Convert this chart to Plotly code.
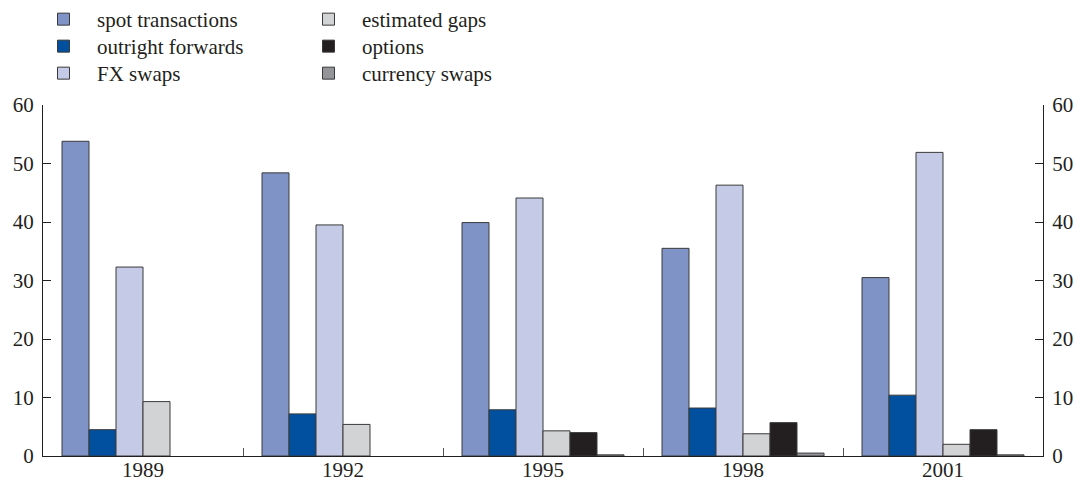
import plotly.graph_objects as go

years = ["1989", "1992", "1995", "1998", "2001"]
series_names = ["spot transactions", "outright forwards", "FX swaps",
                "estimated gaps", "options", "currency swaps"]
spot = [53.8, 48.4, 39.9, 35.5, 30.5]
outright_forwards = [4.5, 7.2, 7.9, 8.2, 10.4]
fx_swaps = [32.3, 39.5, 44.1, 46.3, 51.9]
estimated_gaps = [9.3, 5.4, 4.3, 3.8, 2.0]
options = [None, None, 4.0, 5.7, 4.5]
currency_swaps = [None, None, 0.2, 0.5, 0.2]
y_ticks = [0, 10, 20, 30, 40, 50, 60]

series_values = [spot, outright_forwards, fx_swaps, estimated_gaps, options, currency_swaps]
colors = ["#7f93c6", "#00509f", "#c5cae6", "#d2d3d5", "#231f20", "#939598"]

W, H = 1084, 483
xpos = list(range(len(years)))
FONT = "Liberation Serif"
AX = "#231f20"

# legend layout: two columns of three entries, one small legend per entry
legend_cols_px = [30, 295]           # left edge of each legend column
legend_rows_px = [19.5, 46.5, 73.5]  # vertical centre of each row
legend_ids = ["legend" if i == 0 else f"legend{i + 1}" for i in range(len(series_names))]

fig = go.Figure()
for name, vals, col, lg in zip(series_names, series_values, colors, legend_ids):
    fig.add_trace(go.Bar(
        x=xpos, y=vals, name=name, legend=lg,
        marker=dict(color=col, line=dict(color="#3a3a3a", width=1)),
    ))

# empty trace carrying the right-hand axis and the group divider ticks
fig.add_trace(go.Bar(x=xpos, y=[None] * len(xpos), xaxis="x2", yaxis="y2",
                     showlegend=False, hoverinfo="skip"))

legends = {}
for i, lg in enumerate(legend_ids):
    c, r = divmod(i, 3)
    legends[lg] = dict(
        orientation="v", xanchor="left", yanchor="middle",
        xref="container", yref="container",
        x=legend_cols_px[c] / W, y=1 - legend_rows_px[r] / H,
        font=dict(family=FONT, size=21, color=AX), bgcolor="rgba(0,0,0,0)",
        itemwidth=57, borderwidth=0,
    )

axis_font = dict(family=FONT, size=21, color=AX)

fig.update_layout(
    width=W, height=H,
    margin=dict(l=43, r=41, t=105, b=27, autoexpand=False),
    paper_bgcolor="white", plot_bgcolor="white",
    barmode="group", bargap=0.19, bargroupgap=0,
    font=dict(family=FONT, size=21, color=AX),
    xaxis=dict(
        range=[-0.5, len(years) - 0.5],
        tickvals=xpos, ticktext=years, ticks="", ticklabelstandoff=-5,
        showline=True, linecolor=AX, linewidth=1.2,
        showgrid=False, zeroline=False, automargin=False,
        tickfont=axis_font,
    ),
    xaxis2=dict(
        range=[-0.5, len(years) - 0.5], overlaying="x", anchor="y",
        tickvals=[i + 0.5 for i in xpos[:-1]], ticks="inside", ticklen=8,
        tickcolor="#555555", tickwidth=1.2, showticklabels=False,
        showline=False, showgrid=False, zeroline=False, automargin=False,
        side="bottom",
    ),
    yaxis=dict(
        range=[0, 60], tickvals=y_ticks, ticks="inside", ticklen=8,
        tickcolor=AX, tickwidth=1.2, ticklabelstandoff=4,
        showline=True, linecolor=AX, linewidth=1.2,
        showgrid=False, zeroline=False, automargin=False,
        tickfont=axis_font,
    ),
    yaxis2=dict(
        range=[0, 60], tickvals=y_ticks, ticks="inside", ticklen=8,
        tickcolor=AX, tickwidth=1.2, side="right", overlaying="y", anchor="x",
        ticklabelstandoff=4,
        showline=True, linecolor=AX, linewidth=1.2,
        showgrid=False, zeroline=False, automargin=False,
        tickfont=axis_font,
    ),
    showlegend=True,
    **legends,
)

fig.write_html("out.html",
               config={"displayModeBar": False},
               post_script="document.body.style.margin='0';document.body.style.overflow='hidden';")
